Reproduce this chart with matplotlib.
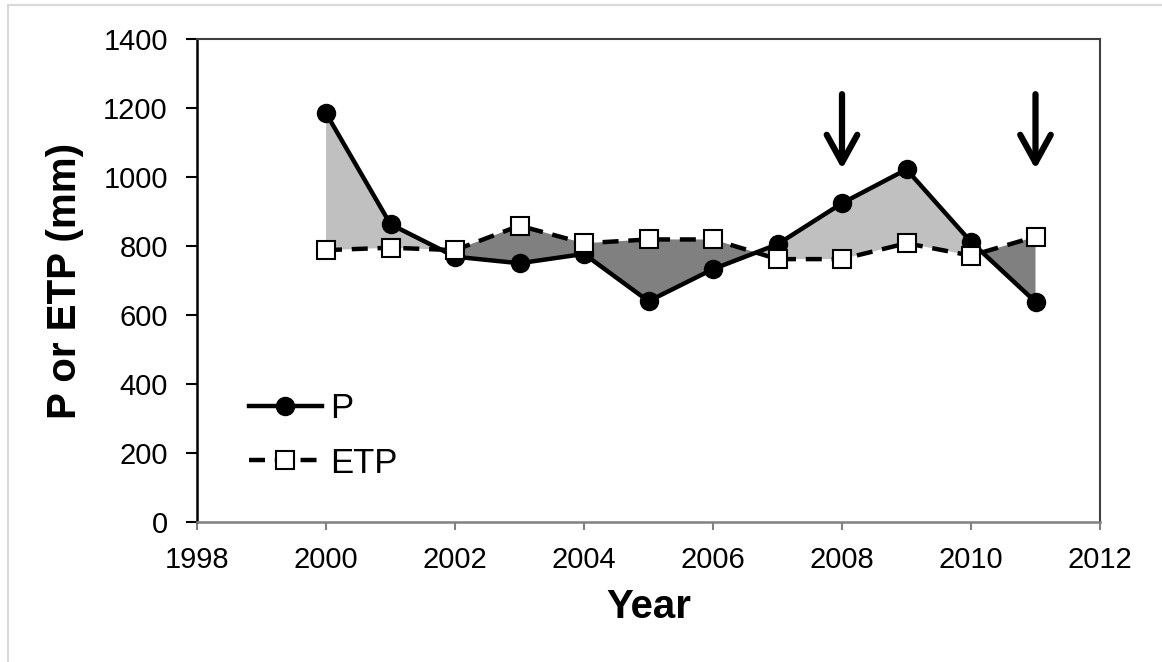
import numpy as np
import matplotlib
matplotlib.use("Agg")
import matplotlib.pyplot as plt
from matplotlib.lines import Line2D

plt.rcParams['font.family'] = ['Liberation Sans', 'DejaVu Sans']

# data
years = [2000, 2001, 2002, 2003, 2004, 2005, 2006, 2007, 2008, 2009, 2010, 2011]
p_mm = [1185, 863, 769, 750, 777, 640, 733, 805, 924, 1022, 812, 638]
etp_mm = [788, 795, 788, 859, 808, 819, 819, 762, 762, 808, 772, 827]
arrow_years = [2008, 2011]
arrow_tail, arrow_head = 1240, 1023

x_ticks = list(range(1998, 2013, 2))
y_ticks = list(range(0, 1401, 200))

fig = plt.figure(figsize=(11.62, 6.62), dpi=100)
ax = fig.add_axes([197 / 1162, 1 - 522 / 662, 903 / 1162, 483 / 662])

x = np.array(years, dtype=float)
p = np.array(p_mm, dtype=float)
e = np.array(etp_mm, dtype=float)

# surplus (P > ETP) light grey, deficit dark grey
ax.fill_between(x, p, e, where=p >= e, interpolate=True,
                color='#c0c0c0', lw=0, zorder=1)
ax.fill_between(x, p, e, where=p <= e, interpolate=True,
                color='#808080', lw=0, zorder=1)

ax.plot(x, e, color='black', lw=3.2, ls=(0, (3.6, 2.2)), marker='s',
        markersize=13, markerfacecolor='white', markeredgecolor='black',
        markeredgewidth=1.5, zorder=3)
ax.plot(x, p, color='black', lw=3.2, marker='o', markersize=13,
        markerfacecolor='black', markeredgecolor='black', zorder=2)

for yr in arrow_years:
    ax.annotate('', xy=(yr, arrow_head), xytext=(yr, arrow_tail),
                arrowprops=dict(arrowstyle='->,head_length=1.0,head_width=0.55',
                                color='black', lw=4.5, mutation_scale=20,
                                shrinkA=0, shrinkB=0))

ax.set_xlim(1998, 2012)
ax.set_ylim(0, 1400)
ax.set_xticks(x_ticks)
ax.set_yticks(y_ticks)
ax.tick_params(axis='y', direction='out', length=8, width=1.5, pad=13,
               labelsize=21, color='black')
ax.tick_params(axis='x', direction='out', length=6, width=1.5, pad=11,
               labelsize=21, color='#808080')

ax.spines['left'].set_color('black')
ax.spines['left'].set_linewidth(1.8)
ax.spines['bottom'].set_color('#808080')
ax.spines['bottom'].set_linewidth(1.8)
for side in ['top', 'right']:
    ax.spines[side].set_color('#404040')
    ax.spines[side].set_linewidth(1.5)

ax.set_xlabel('Year', fontsize=29, fontweight='bold', labelpad=10)
ax.set_ylabel('P or ETP (mm)', fontsize=29, fontweight='bold', labelpad=14)

handles = [
    Line2D([], [], color='black', lw=3.2, marker='o', markersize=13),
    Line2D([], [], color='black', lw=3.2, ls=(0, (3.6, 2.2)), marker='s',
           markersize=13, markerfacecolor='white', markeredgewidth=1.5),
]
ax.legend(handles, ['P', 'ETP'], loc='upper left', frameon=False,
          bbox_to_anchor=(52 / 903, (522 - 392) / 483), borderaxespad=0,
          borderpad=0, fontsize=25, handlelength=2.1, handletextpad=0.25,
          labelspacing=0.62)

# light grey border around the chart area (cropped at right/bottom)
fig.add_artist(plt.Line2D([8 / 1162, 8 / 1162], [0, 1 - 5 / 662],
                          transform=fig.transFigure, color='#d9d9d9', lw=1.5))
fig.add_artist(plt.Line2D([8 / 1162, 1], [1 - 5 / 662, 1 - 5 / 662],
                          transform=fig.transFigure, color='#d9d9d9', lw=1.5))

fig.savefig('out.png', dpi=100)
